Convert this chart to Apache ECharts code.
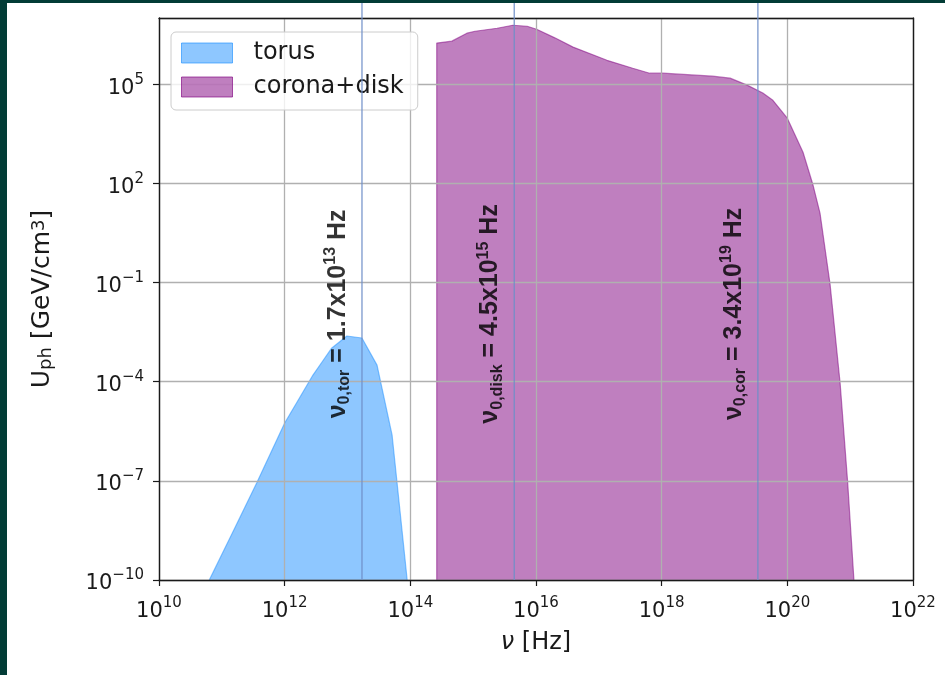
<!DOCTYPE html>
<html>
<head>
<meta charset="utf-8">
<script src="https://cdn.jsdelivr.net/npm/echarts@6/dist/echarts.min.js"></script>
<style>
  html, body { margin: 0; padding: 0; width: 945px; height: 675px; overflow: hidden; background: #023c36; }
  #chart { position: absolute; left: 7px; top: 3px; width: 938px; height: 672px; background: #ffffff; }
</style>
</head>
<body>
<div id="chart"></div>
<script>
// Photon energy density spectra: dusty torus and corona + accretion disk.
// Spectra are given as log10 of frequency [Hz] and log10 of U_ph [GeV/cm^3].
const torusLogNu = [10.80, 11.20, 11.56, 12.00, 12.20, 12.45, 12.60, 12.75, 12.99, 13.23, 13.47, 13.71, 13.95];
const torusLogU  = [-10.0, -8.45, -7.04, -5.25, -4.61, -3.80, -3.39, -2.98, -2.62, -2.68, -3.50, -5.62, -10.0];

const coronaLogNu = [14.42, 14.42, 14.66, 14.90, 15.03, 15.38, 15.63, 15.86, 16.01, 16.30, 16.59, 17.13, 17.54,
                     17.81, 18.02, 18.81, 19.09, 19.36, 19.61, 19.77, 20.00, 20.25, 20.41, 20.52, 20.68, 20.84,
                     20.96, 21.06];
const coronaLogU  = [-10.0, 6.24, 6.30, 6.54, 6.60, 6.69, 6.78, 6.75, 6.66, 6.40, 6.12, 5.72, 5.48,
                     5.33, 5.33, 5.24, 5.18, 4.97, 4.73, 4.51, 3.97, 2.94, 1.94, 1.10, -1.05, -4.04,
                     -7.04, -10.0];

// Characteristic frequencies of each component
const nu0Names    = ['tor', 'disk', 'cor'];
const nu0Mantissa = ['1.7', '4.5', '3.4'];
const nu0Exponent = [13, 15, 19];

// Axis tick exponents
const xTickExps = [10, 12, 14, 16, 18, 20, 22];
const yTickExps = [-10, -7, -4, -1, 2, 5];

const seriesNames = ['torus', 'corona+disk'];

// ---------------------------------------------------------------------------
const TXT = '#1a1a1a';
const TICK_FONT = 'DejaVu Sans';
const TORUS_FILL = 'rgba(30,144,255,0.5)';
const CORONA_FILL = 'rgba(128,0,128,0.5)';
const GRID_COLOR = '#b0b0b0';
const MARK_COLOR = '#6f8fc8';
const Y_MIN = 1e-10, Y_MAX = 1e7;
const LINE_TOP = Math.pow(10, 7.45);   // marker lines run up to the top edge of the figure
const LABEL_Y = Math.pow(10, -1.95);   // vertical centre of the marker captions

const toPoints = (lx, ly) => lx.map((v, i) => [Math.pow(10, v), Math.pow(10, ly[i])]);

function powLabel(exps) {
  return function (v) {
    const e = Math.round(Math.log10(v));
    if (exps.indexOf(e) < 0) return '';
    return '{b|10}{s|' + String(e).replace('-', '\u2212') + '}';
  };
}
const tickRich = {
  b: { fontSize: 21, fontFamily: TICK_FONT, color: TXT, lineHeight: 32 },
  s: { fontSize: 15, fontFamily: TICK_FONT, color: TXT, lineHeight: 8, verticalAlign: 'top' }
};

const nu0Values = nu0Mantissa.map((m, i) => parseFloat(m) * Math.pow(10, nu0Exponent[i]));

const markLines = nu0Values.map((v, i) => ({
  name: 'nu0_' + nu0Names[i],
  type: 'line',
  data: [[v, Y_MIN], [v, LINE_TOP]],
  clip: false,
  symbol: 'none',
  silent: true,
  z: 8,
  lineStyle: { color: MARK_COLOR, width: 1.2 }
}));

const CAP_FONT = 'Liberation Sans';
const capRich = {
  m:   { fontSize: 25, fontWeight: 'bold', fontFamily: CAP_FONT, color: '#000', lineHeight: 30 },
  sub: { fontSize: 16, fontWeight: 'bold', fontFamily: CAP_FONT, color: '#000', lineHeight: 12, verticalAlign: 'bottom' },
  sup: { fontSize: 16, fontWeight: 'bold', fontFamily: CAP_FONT, color: '#000', lineHeight: 12, verticalAlign: 'top' }
};

const captions = {
  name: 'nu0_captions',
  type: 'scatter',
  silent: true,
  z: 9,
  symbolSize: 0,
  data: nu0Values.map((v, i) => ({
    value: [v, LABEL_Y],
    label: {
      show: true,
      position: 'inside',
      rotate: 90,
      offset: [0, -24],
      rich: capRich,
      formatter: '{m|\u03bd}{sub|0,' + nu0Names[i] + '}{m| = ' + nu0Mantissa[i] + 'x10}{sup|' + nu0Exponent[i] + '}{m| Hz}'
    }
  }))
};

const baseAxis = {
  type: 'log',
  logBase: 10,
  z: 5,
  axisLine: { show: true, onZero: false, lineStyle: { color: TXT, width: 1.4 } },
  axisTick: { show: true, length: 6, lineStyle: { color: TXT, width: 1.2 } },
  minorTick: { show: false },
  splitLine: { show: true, lineStyle: { color: GRID_COLOR, width: 1.3 } }
};
const frameAxis = {
  type: 'log',
  logBase: 10,
  z: 5,
  axisLine: { show: true, onZero: false, lineStyle: { color: TXT, width: 1.4 } },
  axisTick: { show: false },
  axisLabel: { show: false },
  splitLine: { show: false }
};

const option = {
  animation: false,
  backgroundColor: '#ffffff',
  grid: { left: 152, right: 32, top: 15, bottom: 95, containLabel: false },
  legend: {
    orient: 'vertical',
    left: 164,
    top: 29,
    itemWidth: 51,
    itemHeight: 20,
    itemGap: 10,
    padding: [9, 14, 11, 10],
    backgroundColor: 'rgba(255,255,255,0.8)',
    borderColor: '#cccccc',
    borderWidth: 1,
    borderRadius: 5,
    z: 6,
    textStyle: { fontFamily: TICK_FONT, fontSize: 24, color: TXT, padding: [0, 0, 0, 16] },
    data: [
      { name: seriesNames[0], icon: 'rect', itemStyle: { color: TORUS_FILL, borderColor: 'rgba(30,144,255,0.65)', borderWidth: 1 } },
      { name: seriesNames[1], icon: 'rect', itemStyle: { color: CORONA_FILL, borderColor: 'rgba(128,0,128,0.65)', borderWidth: 1 } }
    ]
  },
  xAxis: [
    Object.assign({}, baseAxis, {
      position: 'bottom',
      min: Math.pow(10, xTickExps[0]),
      max: Math.pow(10, xTickExps[xTickExps.length - 1]),
      interval: 2,
      name: '{i|\u03bd} [Hz]',
      nameLocation: 'middle',
      nameGap: 51,
      nameTextStyle: {
        fontFamily: TICK_FONT, fontSize: 24, color: TXT,
        rich: { i: { fontFamily: TICK_FONT, fontSize: 24, fontStyle: 'italic', color: TXT } }
      },
      axisLabel: { show: true, margin: 16, formatter: powLabel(xTickExps), rich: tickRich }
    }),
    Object.assign({}, frameAxis, {
      position: 'top',
      min: Math.pow(10, xTickExps[0]),
      max: Math.pow(10, xTickExps[xTickExps.length - 1])
    })
  ],
  yAxis: [
    Object.assign({}, baseAxis, {
      position: 'left',
      min: Y_MIN,
      max: Y_MAX,
      interval: 3,
      name: 'U{sb|ph} [GeV/cm{sp|3}]',
      nameLocation: 'middle',
      nameGap: 104,
      nameTextStyle: {
        fontFamily: TICK_FONT, fontSize: 25, color: TXT,
        rich: {
          sb: { fontFamily: TICK_FONT, fontSize: 18, color: TXT, lineHeight: 14, verticalAlign: 'bottom' },
          sp: { fontFamily: TICK_FONT, fontSize: 18, color: TXT, lineHeight: 14, verticalAlign: 'top' }
        }
      },
      axisLabel: { show: true, margin: 15, padding: [8, 0, 0, 0], showMaxLabel: false, formatter: powLabel(yTickExps), rich: tickRich }
    }),
    Object.assign({}, frameAxis, { position: 'right', min: Y_MIN, max: Y_MAX })
  ],
  series: [
    {
      name: seriesNames[0],
      type: 'line',
      data: toPoints(torusLogNu, torusLogU),
      symbol: 'none',
      z: 2,
      itemStyle: { color: TORUS_FILL },
      lineStyle: { color: TORUS_FILL, width: 1.2 },
      areaStyle: { color: TORUS_FILL, opacity: 1, origin: 'start' }
    },
    {
      name: seriesNames[1],
      type: 'line',
      data: toPoints(coronaLogNu, coronaLogU),
      symbol: 'none',
      z: 2,
      itemStyle: { color: CORONA_FILL },
      lineStyle: { color: CORONA_FILL, width: 1.2 },
      areaStyle: { color: CORONA_FILL, opacity: 1, origin: 'start' }
    }
  ].concat(markLines, [captions])
};

const chart = echarts.init(document.getElementById('chart'), null, { renderer: 'canvas' });
chart.setOption(option);
</script>
</body>
</html>
